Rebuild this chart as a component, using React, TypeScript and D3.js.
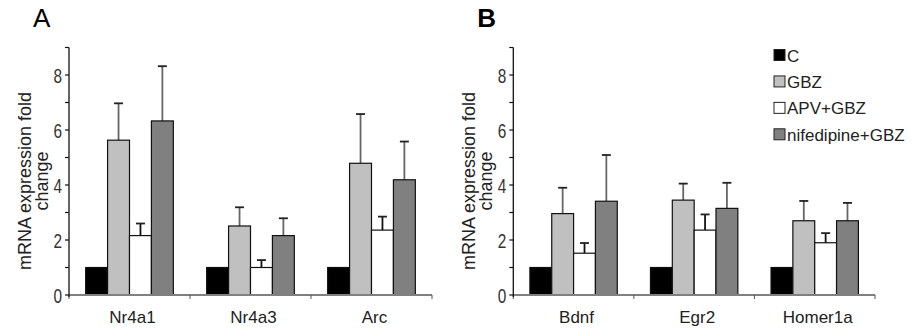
import React from 'react';
import * as d3 from 'd3';

const series = ['C', 'GBZ', 'APV+GBZ', 'nifedipine+GBZ'];
const fills = ['#000000', '#c0c0c0', '#ffffff', '#808080'];
const errColors = ['#666666', '#666666', '#111111', '#666666'];

const genesA = ['Nr4a1', 'Nr4a3', 'Arc'];
const meansA = [
  [1, 5.63, 2.16, 6.33],
  [1, 2.51, 1.0, 2.16],
  [1, 4.79, 2.36, 4.19],
];
const errTopA = [
  [null, 6.97, 2.6, 8.32],
  [null, 3.19, 1.27, 2.79],
  [null, 6.58, 2.85, 5.58],
];

const genesB = ['Bdnf', 'Egr2', 'Homer1a'];
const meansB = [
  [1, 2.96, 1.52, 3.41],
  [1, 3.45, 2.36, 3.15],
  [1, 2.7, 1.9, 2.7],
];
const errTopB = [
  [null, 3.9, 1.89, 5.09],
  [null, 4.05, 2.93, 4.08],
  [null, 3.42, 2.25, 3.35],
];

const yTicks = [0, 1, 2, 3, 4, 5, 6, 7, 8, 9];
const yLabels = [0, 2, 4, 6, 8];

const font = 'Liberation Sans, Arial, sans-serif';

function Panel({ left, right, letter, bold, genes, means, errTop }) {
  const y = d3.scaleLinear().domain([0, 9]).range([295, 47.5]);
  const x0 = d3.scaleBand().domain(genes).range([left, right]);
  const x1 = d3.scaleBand().domain(series).range([0, x0.bandwidth()]).paddingOuter(0.76);
  const bounds = genes.map((g) => x0(g)).concat([right]);

  return (
    <g>
      <text x={left - 36} y={27} fontSize={26} fontWeight={bold ? 'bold' : 'normal'} fontFamily={font}>{letter}</text>
      <g transform={`translate(${left - 38},181) rotate(-90)`}>
        <text x={0} y={0} textAnchor="middle" fontSize={18} fill="#222" fontFamily={font}>mRNA expression fold</text>
        <text x={0} y={17} textAnchor="middle" fontSize={18} fill="#222" fontFamily={font}>change</text>
      </g>
      {genes.map((g, gi) => (
        <g key={g}>
          {series.map((s, si) => {
            const bx = x0(g) + x1(s);
            const v = means[gi][si];
            const e = errTop[gi][si];
            const cx = bx + x1.bandwidth() / 2;
            return (
              <g key={s}>
                {e != null && (
                  <g>
                    <line x1={cx} x2={cx} y1={y(v)} y2={y(e)} stroke={errColors[si]} strokeWidth={1.8} />
                    <line x1={cx - 4.5} x2={cx + 4.5} y1={y(e)} y2={y(e)} stroke="#222" strokeWidth={1.8} />
                  </g>
                )}
                <rect x={bx} y={y(v)} width={x1.bandwidth()} height={y(0) - y(v)} fill={fills[si]} stroke="#111" strokeWidth={1.2} />
              </g>
            );
          })}
          <text x={x0(g) + x0.bandwidth() / 2 + 3} y={323} textAnchor="middle" fontSize={17} fill="#222" fontFamily={font}>{g}</text>
        </g>
      ))}
      <line x1={left} x2={right} y1={y(0)} y2={y(0)} stroke="#808080" strokeWidth={2} />
      {bounds.map((b, i) => (
        <line key={i} x1={b} x2={b} y1={y(0)} y2={y(0) + 4} stroke="#555" strokeWidth={1} />
      ))}
      <line x1={left} x2={left} y1={y(9)} y2={y(0) + 2} stroke="#111" strokeWidth={1.3} />
      {yTicks.map((t) => (
        <line key={t} x1={left - 4} x2={left} y1={y(t)} y2={y(t)} stroke="#111" strokeWidth={1.2} />
      ))}
      {yLabels.map((t) => (
        <text key={t} transform={`translate(${left - 7},${y(t) + 7.5}) scale(0.75,1)`} textAnchor="end" fontSize={20.5} fill="#333" fontFamily={font}>{t}</text>
      ))}
    </g>
  );
}

export default function App() {
  const legendY = d3.scalePoint().domain(series).range([55, 134.3]);
  return (
    <svg width={916} height={334} style={{ position: 'absolute', left: 0, top: 0, background: '#fff' }}>
      <rect width={916} height={334} fill="#fff" />
      <Panel left={69} right={432} letter="A" bold={false} genes={genesA} means={meansA} errTop={errTopA} />
      <Panel left={513.3} right={875} letter="B" bold={true} genes={genesB} means={meansB} errTop={errTopB} />
      {series.map((s, i) => (
        <g key={s}>
          <rect x={774} y={legendY(s) - 5.5} width={11} height={11} fill={fills[i]} stroke="#222" strokeWidth={1} />
          <text x={787} y={legendY(s) + 6.5} fontSize={17} fill="#222" fontFamily={font}>{s}</text>
        </g>
      ))}
    </svg>
  );
}
